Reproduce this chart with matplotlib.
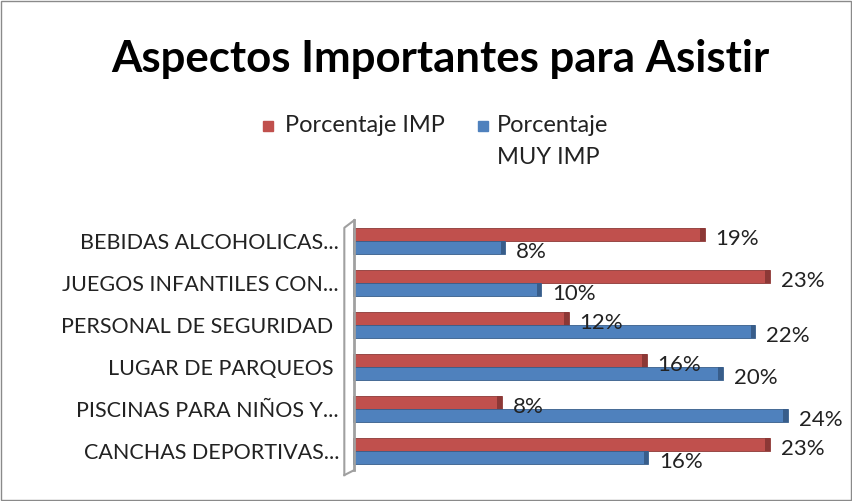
import matplotlib.pyplot as plt
from matplotlib.patches import Rectangle
import numpy as np

categorias = ['BEBIDAS ALCOHOLICAS...', 'JUEGOS INFANTILES CON...',
              'PERSONAL DE SEGURIDAD ', 'LUGAR DE PARQUEOS ',
              'PISCINAS PARA NIÑOS Y...', 'CANCHAS DEPORTIVAS...']
imp = [19.4, 23.0, 11.9, 16.2, 8.2, 23.0]
muy_imp = [8.4, 10.4, 22.2, 20.4, 24.0, 16.3]
series = ['Porcentaje IMP', 'Porcentaje\nMUY IMP']

rojo = '#c0504d'
azul = '#4f81bd'
rojo_osc = '#8c3836'
azul_osc = '#385d8a'

plt.rcParams['font.family'] = ['Lato', 'DejaVu Sans']

fig = plt.figure(figsize=(8.52, 5.01), dpi=100)
ax = fig.add_axes([353 / 852, 1 - 470 / 501, (835 - 353) / 852, 255 / 501])

y = np.arange(len(categorias))
h = 0.3
ax.barh(y - h / 2, imp, height=h, color=rojo, edgecolor=rojo_osc, linewidth=0.6)
ax.barh(y + h / 2, muy_imp, height=h, color=azul, edgecolor=azul_osc, linewidth=0.6)
# tapa del extremo (efecto 3D)
ax.barh(y - h / 2, 0.25, left=np.array(imp) - 0.25, height=h, color=rojo_osc, linewidth=0)
ax.barh(y + h / 2, 0.25, left=np.array(muy_imp) - 0.25, height=h, color=azul_osc, linewidth=0)

for i in range(len(categorias)):
    ax.text(imp[i] + 0.6, y[i] - h / 2 + 0.1, f'{round(imp[i])}%', fontsize=16,
            va='center', ha='left', color='#222222')
    ax.text(muy_imp[i] + 0.6, y[i] + h / 2 + 0.1, f'{round(muy_imp[i])}%', fontsize=16,
            va='center', ha='left', color='#222222')

ax.set_xlim(0, 26.6)
ax.set_ylim(5.45, -0.62)
ax.set_yticks(y)
ax.set_yticklabels(categorias, fontsize=15.5, color='#222222')
ax.tick_params(axis='y', length=0, pad=10)
ax.set_xticks([])
for s in ax.spines.values():
    s.set_visible(False)

# pared lateral gris
ax.plot([0.003, 0.003], [0.0, 0.98], transform=ax.transAxes, color='#a0a0a0', lw=2, clip_on=False)
ax.plot([-0.018, -0.018, 0.003], [-0.02, 0.95, 0.98], transform=ax.transAxes,
        color='#a0a0a0', lw=1.5, clip_on=False)
ax.plot([-0.018, 0.003], [-0.02, 0.0], transform=ax.transAxes, color='#a0a0a0', lw=1.5, clip_on=False)

fig.text(440 / 852, 1 - 59 / 501, 'Aspectos Importantes para Asistir', fontsize=31.5,
         fontweight='bold', ha='center', va='center')

# leyenda
fig.patches.append(Rectangle((263 / 852, 1 - 131 / 501), 10 / 852, 10 / 501,
                             transform=fig.transFigure, color=rojo))
fig.text(285 / 852, 1 - 126 / 501, series[0], fontsize=17, va='center', ha='left', color='#222222')
fig.patches.append(Rectangle((478 / 852, 1 - 131 / 501), 10 / 852, 10 / 501,
                             transform=fig.transFigure, color=azul))
fig.text(497 / 852, 1 - 126 / 501, series[1].split('\n')[0], fontsize=17, va='center', ha='left', color='#222222')
fig.text(497 / 852, 1 - 158 / 501, series[1].split('\n')[1], fontsize=17, va='center', ha='left', color='#222222')

fig.patches.append(Rectangle((0.001, 0.001), 0.998, 0.997, transform=fig.transFigure,
                             fill=False, edgecolor='#8a8a8a', lw=1))

fig.savefig('out.png', dpi=100)
